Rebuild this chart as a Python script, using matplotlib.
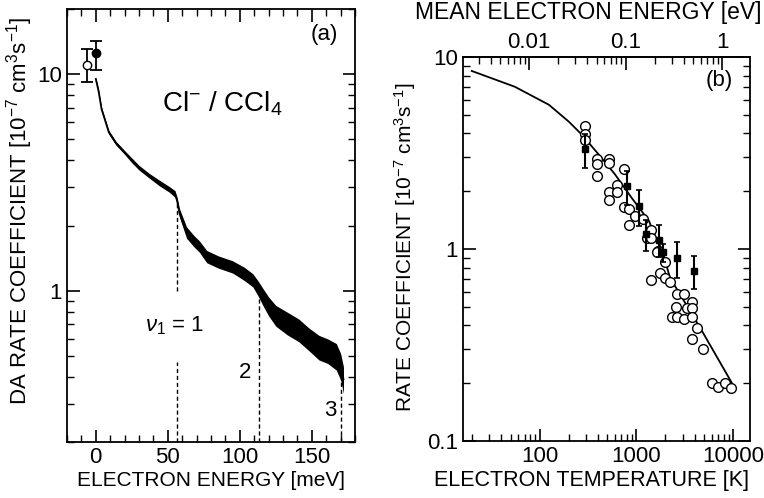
import numpy as np
import matplotlib
matplotlib.use("Agg")
import matplotlib.pyplot as plt
from matplotlib.ticker import FixedLocator, MultipleLocator, LogLocator, NullFormatter, FixedFormatter

plt.rcParams['font.family'] = ['Liberation Sans', 'DejaVu Sans']
plt.rcParams['mathtext.fontset'] = 'custom'
plt.rcParams['mathtext.rm'] = 'Liberation Sans'
plt.rcParams['mathtext.it'] = 'Liberation Sans:italic'

# ============================================================
# DATA (a) : DA rate coefficient vs electron energy
# ============================================================

energy_meV = [0, 2, 4, 9, 14, 20, 25, 30, 37, 44, 51, 55, 56.5, 58, 63, 68, 72, 77,
              85, 95, 103, 109, 113, 116, 120, 125, 133, 141, 148, 155, 161, 167, 170, 172]
rate_a = [9.5, 8.3, 6.9, 5.4, 4.8, 4.35, 4.0, 3.7, 3.4, 3.15, 2.94, 2.8, 2.6, 2.3, 1.86, 1.7, 1.6, 1.44,
          1.36, 1.29, 1.2, 1.12, 1.02, 0.94, 0.85, 0.77, 0.71, 0.66, 0.6, 0.55, 0.53, 0.5, 0.45, 0.39]
# relative half-width of the noise band
noise_a = [0.02, 0.02, 0.02, 0.02, 0.02, 0.02, 0.025, 0.025, 0.025, 0.03, 0.03, 0.035, 0.035, 0.045, 0.06, 0.06, 0.06, 0.065,
           0.065, 0.065, 0.07, 0.07, 0.08, 0.09, 0.1, 0.11, 0.12, 0.12, 0.12, 0.13, 0.13, 0.14, 0.14, 0.14]

thermal_E = [-6, 0]
thermal_k = [11.0, 12.5]
thermal_lo = [9.2, 10.5]
thermal_hi = [13.1, 14.2]

vib_E = [56.5, 113, 170]
vib_top = [2.6, 1.02, 0.45]
vib_labels = ["$\\nu_1$ = 1", "2", "3"]

# ============================================================
# DATA (b) : rate coefficient vs electron temperature
# ============================================================

curve_T = [19.7, 55, 124, 200, 272, 408, 599, 897, 1350, 1630, 1840, 2220, 3580, 4550, 9770]
curve_k = [8.46, 7.0, 5.64, 4.6, 3.94, 3.1, 2.45, 1.84, 1.40, 1.10, 1.0, 0.71, 0.477, 0.39, 0.20]

open_T = [293, 293, 293, 393, 393, 523, 523, 393, 748, 623, 523, 623, 523, 748, 842, 964, 1175,
          842, 1400, 1276, 1430, 1680, 1620, 1972, 1755, 1413, 1972, 2222, 2650, 3130, 3730,
          2570, 3310, 3730, 2320, 2610, 3130, 3790, 4270, 3720, 4850, 6020, 7050, 8260, 9450]
open_k = [4.39, 3.98, 3.70, 2.95, 2.77, 2.95, 2.79, 2.39, 2.62, 2.16, 1.98, 1.98, 1.80, 1.65, 1.61, 1.48, 1.43,
          1.34, 1.26, 1.14, 1.14, 0.98, 0.97, 0.86, 0.75, 0.69, 0.71, 0.67, 0.58, 0.58, 0.53,
          0.50, 0.49, 0.49, 0.44, 0.44, 0.43, 0.445, 0.39, 0.34, 0.30, 0.20, 0.19, 0.20, 0.189]

sq_T = [293, 790, 1070, 1260, 1700, 1900, 2610, 3950]
sq_k = [3.31, 2.12, 1.67, 1.20, 1.12, 0.96, 0.895, 0.77]
sq_err = [0.67, 0.42, 0.35, 0.22, 0.21, 0.10, 0.19, 0.15]

kB = 8.617e-5  # eV/K, mean energy = 3/2 kT

# ============================================================
# FIGURE
# ============================================================

W, H = 764, 498
fig = plt.figure(figsize=(W / 100, H / 100), dpi=100)

ax1 = fig.add_axes([67/W, 56/H, 288/W, 433/H])
ax2 = fig.add_axes([463/W, 57/H, 287/W, 384/H])

tick_fs = 16

# ---------------- panel (a) ----------------

E = np.array(energy_meV)
k = np.array(rate_a)
n = np.array(noise_a)

ax1.fill_between(E, k * (1 - n), k * (1 + n), color='black', lw=0)
ax1.plot(E, k, color='black', lw=1.3)

ax1.errorbar(thermal_E[0], thermal_k[0],
             yerr=[[thermal_k[0] - thermal_lo[0]], [thermal_hi[0] - thermal_k[0]]],
             fmt='o', mfc='white', mec='black', ecolor='black', ms=6, capsize=4, elinewidth=1.3, capthick=1.3)
ax1.errorbar(thermal_E[1], thermal_k[1],
             yerr=[[thermal_k[1] - thermal_lo[1]], [thermal_hi[1] - thermal_k[1]]],
             fmt='o', mfc='black', mec='black', ecolor='black', ms=6, capsize=4, elinewidth=1.3, capthick=1.3)

# dashed vibrational thresholds (first one interrupted by its label)
ax1.plot([vib_E[0], vib_E[0]], [0.2, 0.47], color='black', lw=1, ls=(0, (3, 2)))
ax1.plot([vib_E[0], vib_E[0]], [1.0, vib_top[0]], color='black', lw=1, ls=(0, (3, 2)))
ax1.plot([vib_E[1], vib_E[1]], [0.2, vib_top[1]], color='black', lw=1, ls=(0, (3, 2)))
ax1.plot([vib_E[2], vib_E[2]], [0.2, vib_top[2]], color='black', lw=1, ls=(0, (3, 2)))

ax1.text(vib_E[0] - 2, 0.69, vib_labels[0], fontsize=16, ha='center', va='center')
ax1.text(vib_E[1] - 5, 0.42, vib_labels[1], fontsize=16, ha='right', va='center')
ax1.text(vib_E[2] - 3, 0.28, vib_labels[2], fontsize=16, ha='right', va='center')

ax1.text(88, 7.3, "Cl$^{-}$ / CCl$_4$", fontsize=20, ha='center', va='center')
ax1.text(0.94, 0.94, "(a)", fontsize=16, ha='right', va='center', transform=ax1.transAxes)

ax1.set_xlim(-20, 180)
ax1.set_yscale('log')
ax1.set_ylim(0.2, 20)

ax1.xaxis.set_major_locator(FixedLocator([0, 50, 100, 150]))
ax1.xaxis.set_minor_locator(MultipleLocator(10))
ax1.yaxis.set_major_locator(FixedLocator([1, 10]))
ax1.yaxis.set_major_formatter(FixedFormatter(["1", "10"]))
ax1.yaxis.set_minor_locator(LogLocator(base=10, subs=np.arange(2, 10)))
ax1.yaxis.set_minor_formatter(NullFormatter())

ax1.tick_params(which='both', direction='in', top=True, right=True, labelsize=tick_fs)
ax1.tick_params(which='major', length=9, width=1.2)
ax1.tick_params(which='minor', length=5, width=1.0)

# ---------------- panel (b) ----------------

ax2.plot(curve_T, curve_k, color='black', lw=1.3)
ax2.plot(open_T, open_k, 'o', mfc='white', mec='black', mew=1.0, ms=7, ls='none')
ax2.errorbar(sq_T, sq_k, yerr=sq_err, fmt='s', mfc='black', mec='black', ecolor='black',
             ms=5, capsize=2.5, elinewidth=1.5, capthick=1.2)

ax2.text(0.94, 0.94, "(b)", fontsize=16, ha='right', va='center', transform=ax2.transAxes)

ax2.set_xscale('log')
ax2.set_yscale('log')
ax2.set_xlim(16, 15000)
ax2.set_ylim(0.1, 10)

ax2.xaxis.set_major_locator(FixedLocator([100, 1000, 10000]))
ax2.xaxis.set_major_formatter(FixedFormatter(["100", "1000", "10000"]))
ax2.xaxis.set_minor_locator(LogLocator(base=10, subs=np.arange(2, 10)))
ax2.xaxis.set_minor_formatter(NullFormatter())
ax2.yaxis.set_major_locator(FixedLocator([0.1, 1, 10]))
ax2.yaxis.set_major_formatter(FixedFormatter(["0.1", "1", "10"]))
ax2.yaxis.set_minor_locator(LogLocator(base=10, subs=np.arange(2, 10)))
ax2.yaxis.set_minor_formatter(NullFormatter())

ax2.tick_params(which='both', direction='in', top=False, right=True, labelsize=tick_fs)
ax2.tick_params(which='major', length=9, width=1.2)
ax2.tick_params(which='minor', length=5, width=1.0)

secax = ax2.secondary_xaxis('top', functions=(lambda T: 1.5 * kB * T, lambda e: e / (1.5 * kB)))
secax.xaxis.set_major_locator(FixedLocator([0.01, 0.1, 1]))
secax.xaxis.set_major_formatter(FixedFormatter(["0.01", "0.1", "1"]))
secax.xaxis.set_minor_locator(LogLocator(base=10, subs=np.arange(2, 10)))
secax.xaxis.set_minor_formatter(NullFormatter())
secax.tick_params(which='both', direction='in', labelsize=tick_fs, pad=3)
secax.tick_params(which='major', length=9, width=1.2)
secax.tick_params(which='minor', length=5, width=1.0)

for ax in (ax1, ax2):
    for s in ax.spines.values():
        s.set_linewidth(1.3)
secax.spines['top'].set_linewidth(1.3)

# axis titles placed in figure pixels
fig.text(211/W, 1 - 480/H, "ELECTRON ENERGY [meV]", fontsize=15, ha='center', va='center')
fig.text(20/W, 1 - 211/H, "DA RATE COEFFICIENT [10$^{-7}$ cm$^{3}$s$^{-1}$]", fontsize=16,
         ha='center', va='center', rotation=90)
fig.text(592/W, 1 - 480/H, "ELECTRON TEMPERATURE [K]", fontsize=15.5, ha='center', va='center')
fig.text(405/W, 1 - 247/H, "RATE COEFFICIENT [10$^{-7}$ cm$^{3}$s$^{-1}$]", fontsize=15,
         ha='center', va='center', rotation=90)
fig.text(588/W, 1 - 13/H, "MEAN ELECTRON ENERGY [eV]", fontsize=16.5, ha='center', va='center')

fig.savefig("out.png", dpi=100)
